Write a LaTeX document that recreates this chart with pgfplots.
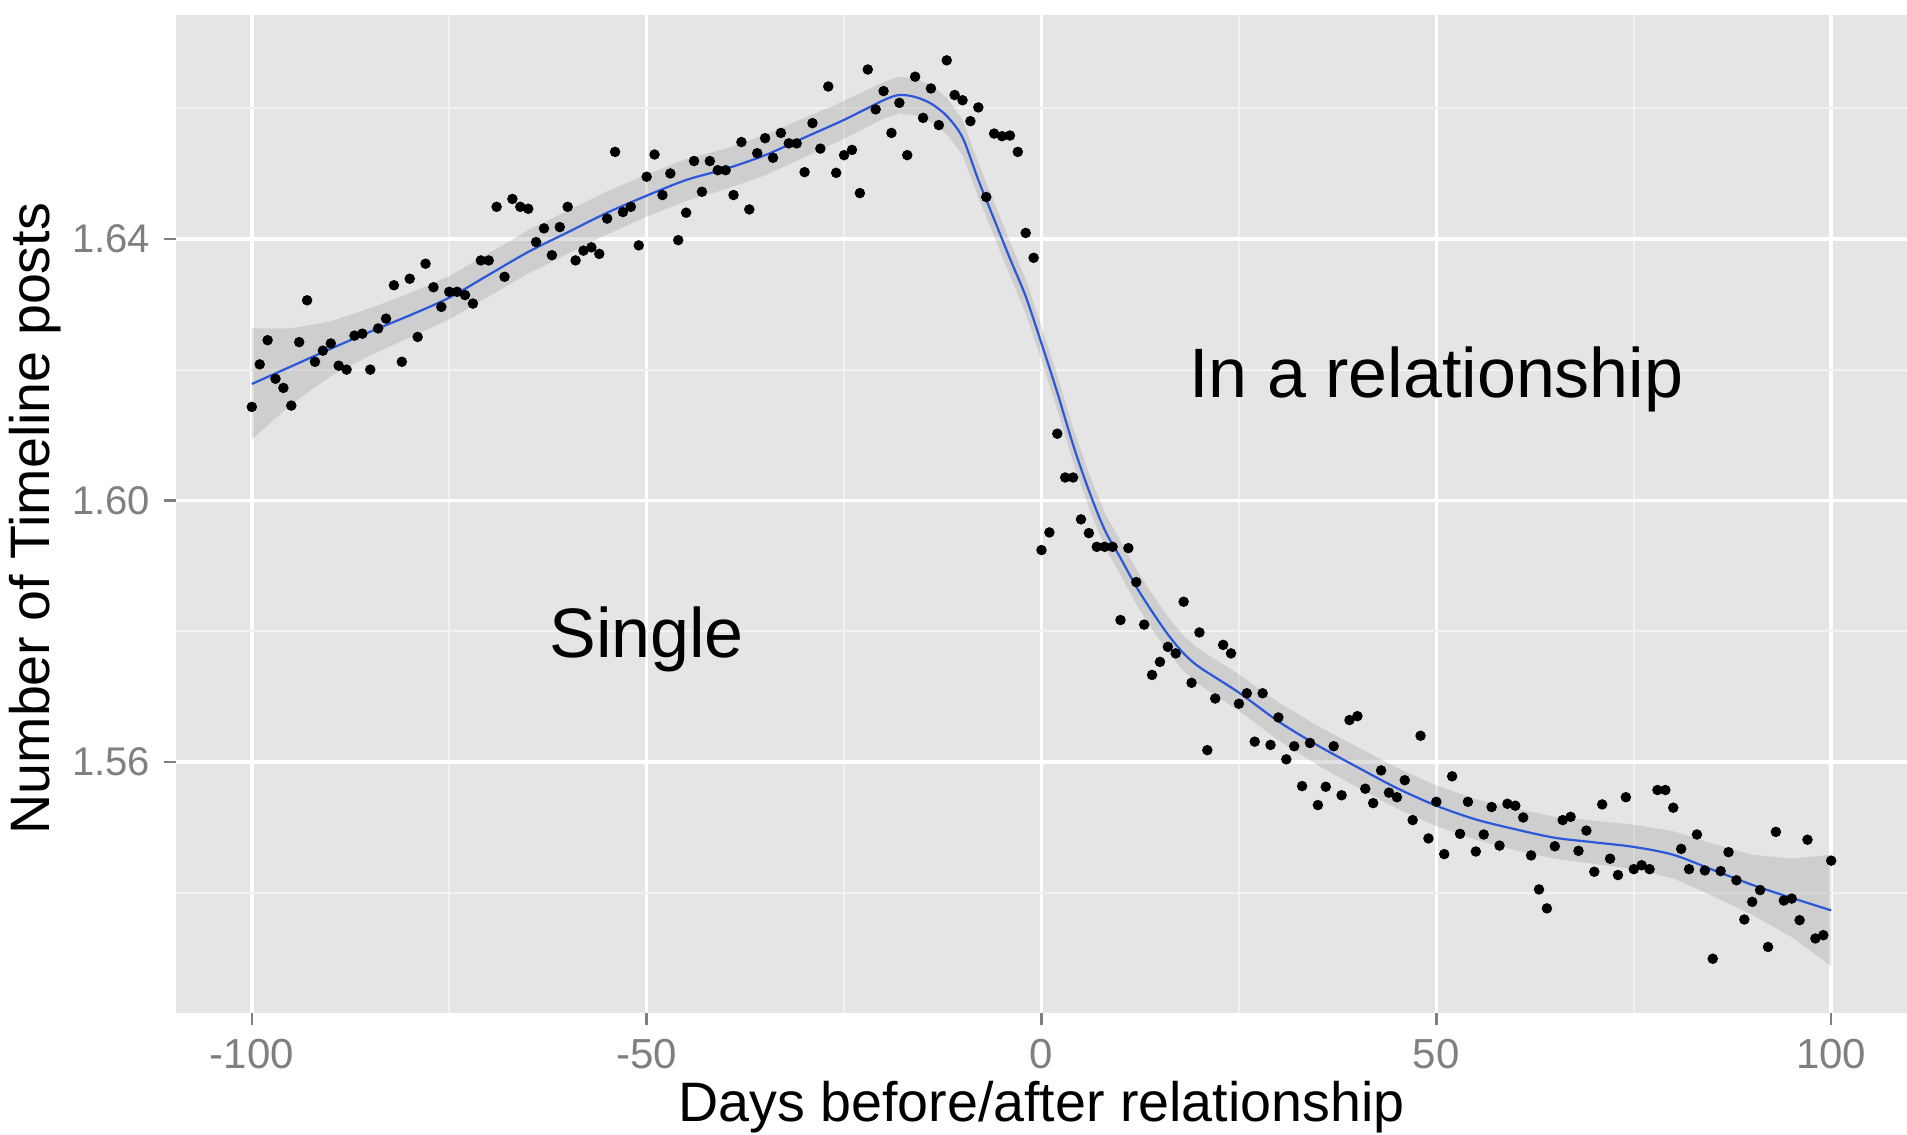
\documentclass[border=0pt]{standalone}
\usepackage{pgfplots}
\pgfplotsset{compat=1.18}
\usepackage{pgfplotstable}
\usepgfplotslibrary{fillbetween}
\usepackage{fontspec}
\setmainfont{Liberation Sans}
\definecolor{panelbg}{HTML}{E5E5E5}
\definecolor{minorgrid}{HTML}{F2F2F2}
\definecolor{ticklab}{HTML}{7F7F7F}
\definecolor{bandgray}{HTML}{999999}
\definecolor{smoothblue}{HTML}{3366FF}

\pgfplotstableread{
x y
-100 1.6143
-99 1.6208
-98 1.6245
-97 1.6186
-96 1.6172
-95 1.6145
-94 1.6242
-93 1.6306
-92 1.6212
-91 1.6229
-90 1.6240
-89 1.6206
-88 1.6200
-87 1.6252
-86 1.6255
-85 1.6200
-84 1.6263
-83 1.6278
-82 1.6329
-81 1.6212
-80 1.6339
-79 1.6250
-78 1.6362
-77 1.6326
-76 1.6296
-75 1.6319
-74 1.6319
-73 1.6314
-72 1.6301
-71 1.6367
-70 1.6367
-69 1.6449
-68 1.6342
-67 1.6461
-66 1.6449
-65 1.6446
-64 1.6395
-63 1.6416
-62 1.6375
-61 1.6418
-60 1.6449
-59 1.6367
-58 1.6382
-57 1.6387
-56 1.6377
-55 1.6431
-54 1.6533
-53 1.6441
-52 1.6449
-51 1.6390
-50 1.6495
-49 1.6529
-48 1.6467
-47 1.6500
-46 1.6398
-45 1.6440
-44 1.6519
-43 1.6472
-42 1.6519
-41 1.6505
-40 1.6505
-39 1.6467
-38 1.6548
-37 1.6445
-36 1.6531
-35 1.6554
-34 1.6524
-33 1.6562
-32 1.6546
-31 1.6546
-30 1.6502
-29 1.6577
-28 1.6538
-27 1.6633
-26 1.6501
-25 1.6528
-24 1.6536
-23 1.6470
-22 1.6659
-21 1.6598
-20 1.6626
-19 1.6562
-18 1.6608
-17 1.6528
-16 1.6648
-15 1.6585
-14 1.6630
-13 1.6574
-12 1.6673
-11 1.6620
-10 1.6612
-9 1.6580
-8 1.6601
-7 1.6464
-6 1.6561
-5 1.6557
-4 1.6558
-3 1.6533
-2 1.6409
-1 1.6371
0 1.5924
1 1.5951
2 1.6102
3 1.6035
4 1.6035
5 1.5971
6 1.5950
7 1.5929
8 1.5929
9 1.5929
10 1.5817
11 1.5927
12 1.5875
13 1.5810
14 1.5733
15 1.5753
16 1.5776
17 1.5766
18 1.5845
19 1.5721
20 1.5798
21 1.5618
22 1.5697
23 1.5779
24 1.5766
25 1.5689
26 1.5705
27 1.5631
28 1.5705
29 1.5626
30 1.5668
31 1.5604
32 1.5624
33 1.5563
34 1.5629
35 1.5534
36 1.5562
37 1.5624
38 1.5549
39 1.5664
40 1.5670
41 1.5559
42 1.5537
43 1.5587
44 1.5553
45 1.5546
46 1.5572
47 1.5511
48 1.5640
49 1.5483
50 1.5539
51 1.5459
52 1.5578
53 1.5490
54 1.5539
55 1.5463
56 1.5489
57 1.5531
58 1.5472
59 1.5536
60 1.5533
61 1.5515
62 1.5457
63 1.5405
64 1.5376
65 1.5471
66 1.5511
67 1.5516
68 1.5464
69 1.5495
70 1.5432
71 1.5535
72 1.5452
73 1.5427
74 1.5546
75 1.5436
76 1.5442
77 1.5436
78 1.5557
79 1.5557
80 1.5530
81 1.5467
82 1.5436
83 1.5489
84 1.5434
85 1.5299
86 1.5433
87 1.5462
88 1.5419
89 1.5359
90 1.5386
91 1.5404
92 1.5317
93 1.5493
94 1.5388
95 1.5391
96 1.5358
97 1.5481
98 1.5330
99 1.5335
100 1.5449
}\pts

\pgfplotstableread{
x lo fit hi
-100 1.6093 1.6178 1.6263
-95 1.6147 1.6205 1.6263
-90 1.6190 1.6232 1.6274
-85 1.6222 1.6258 1.6294
-80 1.6249 1.6283 1.6317
-75 1.6277 1.6310 1.6343
-70 1.6312 1.6345 1.6378
-65 1.6347 1.6380 1.6413
-60 1.6377 1.6410 1.6443
-55 1.6407 1.6440 1.6473
-50 1.6434 1.6466 1.6498
-45 1.6458 1.6490 1.6522
-40 1.6476 1.6507 1.6538
-35 1.6497 1.6528 1.6559
-30 1.6525 1.6555 1.6585
-25 1.6553 1.6582 1.6611
-20 1.6584 1.6612 1.6640
-18 1.6592 1.6620 1.6648
-16 1.6589 1.6617 1.6645
-14 1.6579 1.6607 1.6635
-12 1.6560 1.6588 1.6616
-10 1.6528 1.6555 1.6582
-8 1.6464 1.6490 1.6516
-6 1.6404 1.6430 1.6456
-4 1.6344 1.6370 1.6396
-2 1.6286 1.6312 1.6338
0 1.6214 1.6240 1.6266
2 1.6139 1.6165 1.6191
4 1.6059 1.6085 1.6111
6 1.5989 1.6015 1.6041
8 1.5929 1.5955 1.5981
10 1.5886 1.5912 1.5938
12 1.5841 1.5868 1.5895
14 1.5803 1.5830 1.5857
16 1.5768 1.5795 1.5822
18 1.5739 1.5766 1.5793
20 1.5718 1.5745 1.5772
25 1.5678 1.5706 1.5734
30 1.5633 1.5662 1.5691
35 1.5595 1.5625 1.5655
40 1.5561 1.5592 1.5623
45 1.5529 1.5560 1.5591
50 1.5502 1.5533 1.5564
55 1.5481 1.5512 1.5543
60 1.5465 1.5497 1.5529
65 1.5452 1.5484 1.5516
70 1.5444 1.5477 1.5510
75 1.5436 1.5470 1.5504
80 1.5422 1.5458 1.5494
85 1.5395 1.5435 1.5475
90 1.5366 1.5412 1.5458
95 1.5332 1.5392 1.5452
100 1.5288 1.5373 1.5458
}\fit

\begin{document}
\begin{tikzpicture}
\begin{axis}[name=ax, scale only axis, width=432.75pt, height=249.6pt,
  xmin=-109.6, xmax=109.6, ymin=1.5216, ymax=1.6743,
  axis background/.style={fill=panelbg},
  axis line style={draw=none},
  xtick={-100,-50,0,50,100}, xticklabels={-100,-50,0,50,100},
  ytick={1.56,1.60,1.64}, yticklabels={1.56,1.60,1.64},
  scaled y ticks=false, scaled x ticks=false,
  minor xtick={-75,-25,25,75}, minor ytick={1.54,1.58,1.62,1.66},
  grid=both,
  major grid style={white, line width=0.9pt},
  minor grid style={minorgrid, line width=0.45pt},
  tick align=outside, major tick length=3pt, minor tick length=0pt,
  tick style={ticklab, line width=0.6pt},
  xtick pos=left, ytick pos=left,
  yticklabel style={font=\fontsize{10}{10}\selectfont, text=ticklab},
  xticklabel style={font=\fontsize{10.5}{10.5}\selectfont, text=ticklab},
]
\addplot[name path=hi, draw=none, forget plot] table[x=x,y=hi]{\fit};
\addplot[name path=lo, draw=none, forget plot] table[x=x,y=lo]{\fit};
\addplot[bandgray, fill opacity=0.3, draw=none] fill between[of=hi and lo];
\addplot[only marks, mark=*, mark size=1.1pt, black] table[x=x,y=y]{\pts};
\addplot[smoothblue!85!black, line width=0.55pt, smooth, no marks] table[x=x,y=fit]{\fit};
\node[anchor=base, font=\fontsize{17.5}{17.5}\selectfont] at (axis cs:-50,1.5759) {Single};
\node[anchor=base, font=\fontsize{17.5}{17.5}\selectfont] at (axis cs:50,1.6157) {In a relationship};
\end{axis}
\node[anchor=base, font=\fontsize{13.9}{13.9}\selectfont] at ([yshift=-27.2pt]ax.south) {Days before/after relationship};
\node[anchor=base, rotate=90, font=\fontsize{13.9}{13.9}\selectfont] at ([xshift=-31.5pt,yshift=-1.2pt]ax.west) {Number of Timeline posts};
\pgfresetboundingbox
\path[use as bounding box] ([xshift=-44pt,yshift=-30.5pt]ax.south west) rectangle ([yshift=3.65pt]ax.north east);
\end{tikzpicture}
\end{document}
